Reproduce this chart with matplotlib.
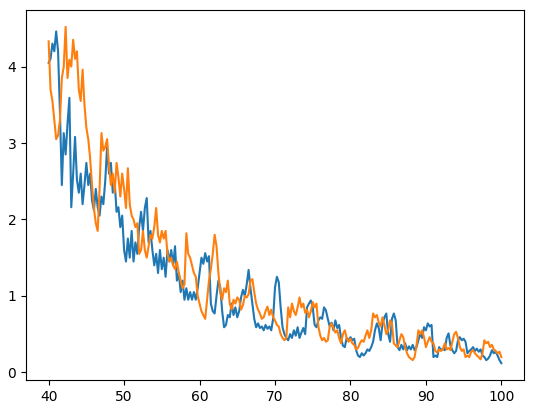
import numpy as np
import matplotlib
matplotlib.use("Agg")
import matplotlib.pyplot as plt

# x grid of the two traces (step 0.25 from 40 to 100)
x_vals = np.arange(40, 100.001, 0.25)

# first trace (blue), 4 per unit of x
blue_vals = [
    4.05, 4.10, 4.30, 4.20,   # 40
    4.46, 4.20, 3.40, 2.45,   # 41
    3.13, 2.85, 3.25, 3.59,   # 42
    2.16, 2.60, 3.08, 2.52,   # 43
    2.35, 2.60, 2.20, 2.45,   # 44
    2.74, 2.45, 2.60, 2.25,   # 45
    2.12, 2.40, 2.16, 2.05,   # 46
    2.30, 2.20, 2.50, 2.95,   # 47
    2.60, 2.74, 2.35, 2.50,   # 48
    2.10, 2.16, 1.90, 2.05,   # 49
    1.60, 1.45, 1.75, 1.50,   # 50
    1.85, 1.45, 1.70, 1.55,   # 51
    1.90, 2.10, 1.85, 2.15,   # 52
    2.28, 1.70, 1.85, 1.60,   # 53
    1.40, 1.55, 1.30, 1.60,   # 54
    1.35, 1.50, 1.25, 1.60,   # 55
    1.45, 1.60, 1.40, 1.65,   # 56
    1.20, 1.30, 1.05, 1.20,   # 57
    0.95, 1.10, 0.95, 1.05,   # 58
    0.95, 1.05, 0.95, 1.10,   # 59
    1.30, 1.50, 1.42, 1.56,   # 60
    1.45, 1.52, 0.90, 0.80,   # 61
    0.77, 1.00, 1.20, 1.11,   # 62
    0.80, 0.59, 0.62, 0.75,   # 63
    0.72, 0.90, 0.75, 0.85,   # 64
    0.72, 0.80, 0.98, 1.08,   # 65
    1.00, 1.15, 1.34, 1.10,   # 66
    0.90, 0.70, 0.59, 0.64,   # 67
    0.58, 0.60, 0.55, 0.62,   # 68
    0.57, 0.60, 0.55, 0.70,   # 69
    1.11, 1.25, 1.18, 0.85,   # 70
    0.59, 0.50, 0.45, 0.42,   # 71
    0.50, 0.45, 0.55, 0.48,   # 72
    0.59, 0.45, 0.52, 0.58,   # 73
    0.50, 0.85, 0.90, 0.94,   # 74
    0.85, 0.62, 0.59, 0.68,   # 75
    0.72, 0.70, 0.85, 0.81,   # 76
    0.70, 0.60, 0.65, 0.55,   # 77
    0.68, 0.58, 0.62, 0.45,   # 78
    0.35, 0.33, 0.45, 0.42,   # 79
    0.46, 0.42, 0.44, 0.29,   # 80
    0.22, 0.20, 0.25, 0.22,   # 81
    0.25, 0.30, 0.28, 0.33,   # 82
    0.40, 0.55, 0.64, 0.58,   # 83
    0.42, 0.64, 0.72, 0.77,   # 84
    0.50, 0.40, 0.70, 0.77,   # 85
    0.68, 0.33, 0.29, 0.36,   # 86
    0.30, 0.38, 0.29, 0.34,   # 87
    0.30, 0.36, 0.29, 0.33,   # 88
    0.42, 0.51, 0.45, 0.59,   # 89
    0.55, 0.64, 0.60, 0.62,   # 90
    0.20, 0.22, 0.20, 0.33,   # 91
    0.29, 0.31, 0.29, 0.45,   # 92
    0.51, 0.35, 0.29, 0.25,   # 93
    0.28, 0.42, 0.46, 0.42,   # 94
    0.44, 0.40, 0.25, 0.28,   # 95
    0.30, 0.33, 0.28, 0.31,   # 96
    0.27, 0.30, 0.22, 0.20,   # 97
    0.16, 0.18, 0.22, 0.29,   # 98
    0.25, 0.27, 0.22, 0.16,   # 99
    0.12,                     # 100
]

# second trace (orange)
orange_vals = [
    4.33, 3.70, 3.55, 3.30,   # 40
    3.05, 3.10, 3.30, 3.85,   # 41
    4.00, 4.52, 3.85, 4.09,   # 42
    4.00, 4.35, 4.10, 4.20,   # 43
    3.70, 3.55, 3.96, 3.50,   # 44
    3.20, 3.05, 2.80, 2.45,   # 45
    2.15, 1.95, 1.85, 2.40,   # 46
    3.13, 2.90, 2.95, 3.05,   # 47
    2.70, 2.45, 2.60, 2.35,   # 48
    2.74, 2.55, 2.30, 2.60,   # 49
    2.40, 2.15, 2.67, 2.20,   # 50
    2.05, 2.00, 1.90, 1.95,   # 51
    1.55, 1.60, 1.85, 1.60,   # 52
    1.50, 1.65, 1.80, 1.75,   # 53
    1.90, 2.15, 1.80, 1.70,   # 54
    1.85, 1.75, 1.85, 1.55,   # 55
    1.45, 1.50, 1.40, 1.35,   # 56
    1.45, 1.30, 1.20, 1.10,   # 57
    1.15, 1.82, 1.55, 1.50,   # 58
    1.40, 1.30, 1.25, 1.00,   # 59
    0.90, 0.80, 0.75, 0.70,   # 60
    0.95, 1.20, 1.35, 1.55,   # 61
    1.80, 1.65, 1.30, 1.05,   # 62
    0.95, 1.10, 1.05, 1.20,   # 63
    0.90, 0.82, 0.95, 0.90,   # 64
    0.98, 0.95, 0.82, 0.88,   # 65
    1.00, 0.98, 1.02, 1.20,   # 66
    1.22, 1.05, 0.90, 0.82,   # 67
    0.77, 0.70, 0.72, 0.80,   # 68
    0.86, 0.75, 0.82, 0.72,   # 69
    0.68, 0.62, 0.60, 0.50,   # 70
    0.45, 0.42, 0.45, 0.85,   # 71
    0.72, 0.90, 0.80, 0.75,   # 72
    0.85, 0.98, 0.85, 0.90,   # 73
    0.78, 0.82, 0.72, 0.80,   # 74
    0.92, 0.85, 0.90, 0.60,   # 75
    0.48, 0.42, 0.45, 0.40,   # 76
    0.42, 0.60, 0.64, 0.58,   # 77
    0.52, 0.55, 0.45, 0.38,   # 78
    0.50, 0.55, 0.45, 0.40,   # 79
    0.44, 0.38, 0.36, 0.30,   # 80
    0.32, 0.38, 0.42, 0.40,   # 81
    0.48, 0.55, 0.45, 0.55,   # 82
    0.77, 0.72, 0.75, 0.65,   # 83
    0.60, 0.72, 0.62, 0.50,   # 84
    0.55, 0.68, 0.64, 0.38,   # 85
    0.35, 0.33, 0.42, 0.50,   # 86
    0.46, 0.33, 0.25, 0.20,   # 87
    0.18, 0.16, 0.20, 0.35,   # 88
    0.55, 0.50, 0.55, 0.46,   # 89
    0.33, 0.40, 0.46, 0.40,   # 90
    0.38, 0.28, 0.26, 0.30,   # 91
    0.28, 0.30, 0.38, 0.30,   # 92
    0.32, 0.29, 0.40, 0.50,   # 93
    0.53, 0.45, 0.33, 0.28,   # 94
    0.30, 0.20, 0.22, 0.20,   # 95
    0.27, 0.29, 0.25, 0.22,   # 96
    0.20, 0.17, 0.25, 0.42,   # 97
    0.38, 0.40, 0.33, 0.36,   # 98
    0.30, 0.28, 0.25, 0.27,   # 99
    0.20,                     # 100
]

fig = plt.figure(figsize=(5.34, 4.13), dpi=100)
ax = fig.add_axes([26 / 534, 33 / 413, 498 / 534, 370 / 413])
ax.plot(x_vals, blue_vals)
ax.plot(x_vals, orange_vals)
ax.set_xticks([40, 50, 60, 70, 80, 90, 100])
ax.set_yticks([0, 1, 2, 3, 4])
fig.savefig("out.png", dpi=100)
